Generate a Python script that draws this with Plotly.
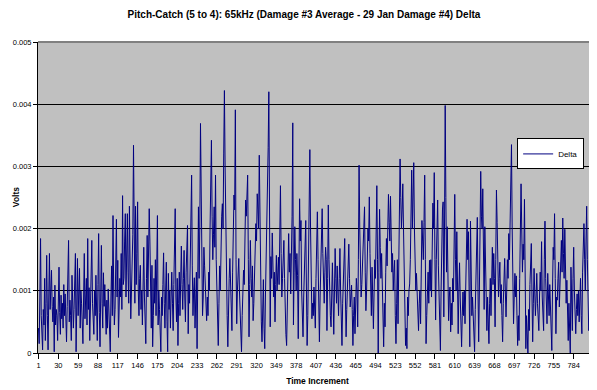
import plotly.graph_objects as go

# Delta values in units of 10 microvolts (e.g. 184 -> 0.00184 V)
delta_10uV = [
    40, 15, 90, 184, 60, 30, 5, 70, 45, 120,
    20, 80, 157, 60, 5, 90, 160, 70, 100, 133,
    75, 50, 90, 2, 109, 45, 70, 60, 20, 100,
    138, 65, 30, 93, 55, 80, 40, 110, 60, 95,
    35, 18, 75, 120, 181, 50, 85, 60, 20, 125,
    90, 40, 70, 110, 160, 2, 85, 152, 60, 95,
    136, 40, 100, 80, 30, 15, 90, 160, 55, 90,
    120, 45, 184, 70, 105, 20, 60, 120, 181, 80,
    35, 30, 100, 60, 125, 70, 20, 110, 192, 65,
    10, 90, 173, 80, 40, 129, 75, 110, 60, 30,
    85, 40, 103, 65, 20, 2, 90, 140, 60, 221,
    100, 45, 70, 130, 215, 90, 149, 25, 80, 120,
    90, 160, 70, 253, 110, 120, 180, 224, 90, 150,
    224, 130, 80, 236, 140, 55, 100, 150, 190, 334,
    140, 80, 236, 110, 160, 243, 100, 60, 120, 141,
    70, 100, 45, 110, 170, 90, 40, 15, 120, 189,
    90, 140, 232, 180, 90, 40, 141, 10, 60, 120,
    80, 150, 60, 130, 221, 45, 100, 70, 30, 2,
    90, 60, 110, 161, 80, 40, 100, 146, 50, 2,
    128, 70, 100, 40, 90, 130, 80, 36, 110, 160,
    232, 90, 50, 120, 12, 80, 130, 60, 100, 172,
    110, 70, 120, 165, 90, 50, 130, 170, 205, 31,
    110, 80, 150, 190, 286, 140, 60, 100, 121, 40,
    90, 130, 7, 150, 235, 120, 200, 369, 250, 130,
    60, 90, 170, 140, 100, 60, 52, 90, 60, 130,
    100, 200, 300, 342, 220, 150, 190, 235, 170, 286,
    150, 90, 40, 12, 80, 140, 100, 180, 220, 240,
    200, 320, 422, 300, 180, 144, 60, 10, 90, 120,
    152, 100, 70, 36, 130, 200, 254, 230, 391, 150,
    47, 100, 130, 152, 100, 60, 30, 2, 60, 100,
    133, 110, 160, 246, 220, 250, 286, 150, 26, 110,
    181, 120, 90, 140, 52, 80, 130, 170, 208, 180,
    256, 230, 200, 318, 200, 88, 50, 18, 60, 118,
    40, 7, 90, 140, 180, 250, 330, 420, 250, 42,
    155, 120, 193, 130, 90, 130, 50, 110, 157, 100,
    140, 154, 110, 180, 269, 160, 90, 120, 150, 181,
    120, 60, 30, 12, 100, 150, 192, 130, 160, 95,
    140, 220, 370, 45, 130, 203, 150, 100, 160, 125,
    23, 120, 248, 180, 213, 100, 50, 26, 90, 150,
    180, 213, 100, 12, 60, 150, 230, 327, 200, 120,
    55, 80, 60, 106, 70, 40, 120, 170, 227, 150,
    60, 18, 90, 140, 190, 232, 160, 110, 80, 130,
    170, 150, 36, 120, 238, 150, 90, 60, 42, 110,
    145, 90, 30, 100, 168, 120, 80, 140, 100, 60,
    120, 168, 100, 50, 12, 80, 130, 160, 184, 90,
    26, 70, 120, 150, 175, 120, 74, 90, 109, 70,
    12, 60, 90, 31, 80, 120, 100, 42, 150, 302,
    200, 130, 90, 110, 150, 190, 200, 235, 130, 68,
    100, 150, 200, 180, 251, 160, 100, 60, 138, 80,
    39, 100, 150, 120, 200, 269, 150, 0, 130, 231,
    170, 120, 160, 97, 40, 10, 80, 42, 130, 184,
    140, 200, 255, 210, 180, 252, 200, 130, 160, 100,
    130, 149, 60, 15, 80, 150, 47, 130, 220, 312,
    250, 200, 230, 272, 200, 130, 60, 12, 40, 7,
    90, 60, 100, 111, 150, 200, 294, 200, 240, 306,
    200, 150, 100, 128, 80, 60, 36, 80, 100, 47,
    130, 213, 180, 150, 210, 286, 150, 15, 60, 100,
    130, 80, 149, 100, 150, 90, 180, 241, 200, 290,
    150, 53, 150, 200, 246, 140, 82, 40, 4, 100,
    180, 230, 243, 58, 200, 398, 250, 130, 203, 120,
    52, 90, 106, 34, 80, 45, 120, 82, 180, 255,
    150, 100, 195, 120, 31, 100, 145, 90, 40, 10,
    60, 98, 60, 100, 47, 90, 160, 215, 150, 195,
    100, 10, 212, 120, 60, 90, 44, 20, 2, 70,
    120, 170, 218, 100, 18, 100, 200, 292, 220, 200,
    264, 150, 70, 203, 150, 100, 36, 90, 60, 15,
    80, 120, 60, 130, 170, 110, 160, 120, 42, 150,
    262, 210, 150, 90, 120, 146, 80, 110, 60, 18,
    80, 120, 152, 100, 58, 100, 150, 120, 192, 150,
    200, 260, 335, 200, 100, 47, 90, 128, 90, 124,
    60, 12, 60, 20, 120, 200, 272, 200, 130, 175,
    150, 247, 120, 7, 60, 40, 0, 70, 36, 110,
    150, 176, 90, 18, 80, 136, 100, 60, 90, 128,
    80, 50, 36, 90, 130, 100, 179, 90, 60, 36,
    150, 212, 120, 90, 47, 128, 100, 60, 110, 80,
    40, 4, 100, 170, 150, 224, 120, 31, 90, 85,
    120, 146, 74, 120, 150, 181, 130, 217, 160, 120,
    199, 150, 80, 117, 60, 20, 80, 40, 0, 138,
    90, 36, 120, 170, 100, 60, 31, 70, 95, 60,
    100, 50, 82, 120, 60, 31, 130, 180, 208, 150,
    100, 180, 236, 150, 90, 36, 60, 85, 40, 12,
    60, 100, 146, 90, 60, 40, 26, 120, 200, 150,
]

time_increment = list(range(1, len(delta_10uV) + 1))
delta_volts = [v * 1e-5 for v in delta_10uV]

x_tick_values = list(range(1, 785, 29))
y_tick_values = [0, 0.001, 0.002, 0.003, 0.004, 0.005]
y_tick_labels = ["0", "0.001", "0.002", "0.003", "0.004", "0.005"]

FONT = "Liberation Sans, Arial, sans-serif"

fig = go.Figure()
fig.add_trace(go.Scatter(
    x=time_increment, y=delta_volts, mode="lines", name="Delta",
    line=dict(color="#000080", width=1),
))

# The page body adds an 8px offset, so the figure is 8px smaller on each axis
fig.update_layout(
    width=589, height=382,
    margin=dict(l=30, r=0, t=34, b=37),
    paper_bgcolor="white",
    plot_bgcolor="#C0C0C0",
    font=dict(family=FONT, size=8, color="black"),
    title=dict(
        text="<b>Pitch-Catch (5 to 4): 65kHz (Damage #3 Average - 29 Jan Damage #4) Delta</b>",
        x=0.5025, xref="container", xanchor="center",
        y=0.984, yref="container", yanchor="middle",
        font=dict(family=FONT, size=10, color="black"),
    ),
    showlegend=True,
    legend=dict(
        x=0.977, xanchor="right", y=0.69, yanchor="top",
        bgcolor="white", bordercolor="black", borderwidth=1,
        font=dict(family=FONT, size=8, color="black"),
        itemwidth=30, tracegroupgap=0,
    ),
    annotations=[dict(
        text="<b>Volts</b>", xref="paper", yref="paper",
        x=-0.04, y=0.5, xanchor="center", yanchor="middle",
        textangle=-90, showarrow=False,
        font=dict(family=FONT, size=8.5, color="black"),
    )],
)

fig.update_xaxes(
    range=[0.27, 818.1],
    tickmode="array", tickvals=x_tick_values,
    ticktext=[str(v) for v in x_tick_values],
    ticks="outside", ticklen=5, tickcolor="black",
    showline=True, linecolor="black", linewidth=1,
    showgrid=False, zeroline=False,
    tickfont=dict(family=FONT, size=7.5, color="black"),
    title=dict(text="<b>Time Increment</b>", font=dict(family=FONT, size=8.5, color="black"), standoff=9),
)
fig.update_yaxes(
    range=[0, 0.005],
    tickmode="array", tickvals=y_tick_values, ticktext=y_tick_labels,
    ticks="outside", ticklen=4, tickcolor="black",
    showline=True, linecolor="black", linewidth=1,
    showgrid=True, gridcolor="black", gridwidth=1,
    zeroline=False,
    tickfont=dict(family=FONT, size=7.5, color="black"),
)

# Grey frame line across the top of the plot area
fig.add_shape(type="line", xref="paper", yref="paper", x0=0, x1=1, y0=1, y1=1,
              line=dict(color="#808080", width=2))

fig.write_html("out.html")
